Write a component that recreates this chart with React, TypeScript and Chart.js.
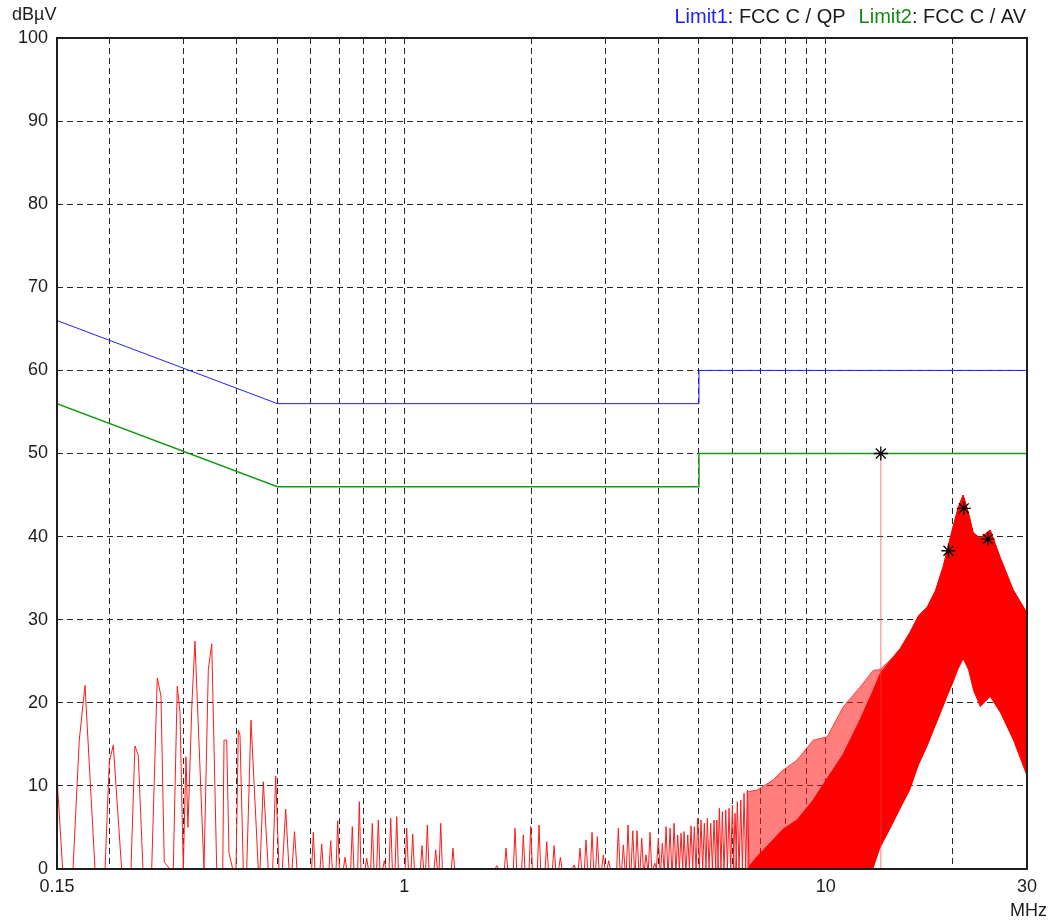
import React, { useEffect, useRef } from 'react';
import { Chart, registerables } from 'chart.js';

Chart.register(...registerables);

// ---- axes ----
const xGridValues = [0.15, 0.2, 0.3, 0.4, 0.5, 0.6, 0.7, 0.8, 0.9, 1, 2, 3, 4, 5, 6, 7, 8, 9, 10, 20, 30];
const xLabelValues = [0.15, 1, 10, 30];
const xLabelTexts = ['0.15', '1', '10', '30'];
const yLabelValues = [0, 10, 20, 30, 40, 50, 60, 70, 80, 90, 100];
const xUnit = 'MHz';
const yUnit = 'dBµV';

// ---- limits ----
const limitFreq = [0.15, 0.5, 5, 5, 30];
const qpLevel = [66, 56, 56, 60, 60];
const avLevel = [56, 46, 46, 50, 50];
const legendNames = ['Limit1', 'Limit2'];
const legendTexts = [': FCC C / QP', ': FCC C / AV'];

// ---- low-frequency trace (MHz, dBµV) ----
const lowFreq = [0.15, 0.1547, 0.1637, 0.1694, 0.1748, 0.1846, 0.195, 0.1996, 0.204, 0.2135, 0.2247, 0.2296, 0.2338, 0.2399, 0.2516, 0.2594, 0.2647, 0.2695, 0.278, 0.2831, 0.2893, 0.2937, 0.299, 0.3034, 0.3067, 0.3135, 0.3187, 0.3348, 0.3428, 0.3493, 0.3589, 0.3709, 0.3735, 0.379, 0.3838, 0.3917, 0.3988, 0.4039, 0.4076, 0.415, 0.4228, 0.4328, 0.4504, 0.4547, 0.4629, 0.4756, 0.4873, 0.4953, 0.5043, 0.5135, 0.5231, 0.5327, 0.5415, 0.5489, 0.5564];
const lowLevel = [11, 0, 0, 15.5, 22.1, 0, 0, 12.9, 14.9, 0, 0, 14.8, 13.7, 0, 0, 23, 20.8, 0.8, 0, 0, 22, 18.8, 0, 13.5, 5, 20, 27.4, 0, 24, 27.1, 0, 0, 15.5, 15.5, 1.9, 0, 0, 16.7, 16.1, 0, 0, 17.9, 0, 0, 10.5, 0, 0, 11.2, 0, 0, 7.2, 0, 0, 4.5, 0];

// ---- narrow spikes (peak frequency MHz, peak level dBµV) ----
const spikeFreq = [0.6083, 0.6368, 0.6689, 0.695, 0.7233, 0.7527, 0.782, 0.8143, 0.8397, 0.8676, 0.8966, 0.9284, 0.9594, 1.0132, 1.0469, 1.1015, 1.134, 1.1872, 1.2201, 1.3047, 1.6567, 1.743, 1.8306, 1.9156, 1.9948, 2.0873, 2.177, 2.266, 2.3452, 2.5264, 2.6109, 2.698, 2.788, 2.8702, 2.9656, 3.0543, 3.2189, 3.3082, 3.394, 3.4826, 3.5654, 3.6576, 3.7444, 3.8273, 3.9272, 4.005, 4.0936, 4.1773, 4.2697, 4.3641, 4.4524, 4.5341, 4.6089, 4.7031, 4.7884, 4.8752, 4.9669, 5.0569, 5.1485, 5.2346, 5.332, 5.43, 5.5106, 5.5886, 5.6808, 5.7878, 5.8928, 6.001, 6.0898, 6.166, 6.2823, 6.3963, 6.5135];
const spikeLevel = [4.4, 3.0, 3.4, 5.8, 1.4, 5.1, 8.1, 1.3, 5.5, 5.9, 1.0, 6.1, 6.3, 4.9, 4.2, 2.8, 5.3, 2.3, 5.5, 2.5, 0.4, 2.5, 4.9, 4.1, 5.1, 5.3, 3.3, 2.8, 1.4, 0.5, 2.5, 3.5, 4.4, 3.9, 1.7, 1.0, 4.9, 2.9, 5.3, 4.6, 4.6, 3.7, 1.7, 4.4, 0.7, 3.7, 3.1, 5.1, 4.9, 5.5, 4.1, 4.3, 4.5, 4.1, 5.2, 5.1, 6.1, 5.9, 5.5, 6.1, 5.5, 5.9, 5.9, 7.3, 6.9, 7.1, 7.3, 7.7, 6.7, 8.1, 8.3, 9.1, 9.5];

// ---- dense high-frequency band envelopes ----
const hfFreq = [6.5, 6.87, 7.49, 7.92, 8.54, 9.33, 10.07, 10.99, 12.06, 12.95, 13.45, 14.44, 15.0, 15.84, 16.6, 17.39, 18.2, 18.98, 19.5, 20.04, 20.6, 21.17, 21.75, 22.35, 23.22, 24.53, 25.91, 27.81, 30];
const hfUpper = [9.3, 9.5, 10.7, 11.9, 13.1, 15.5, 15.9, 19.5, 21.9, 23.9, 24.0, 25.5, 26.5, 28.5, 30.5, 31.5, 33.5, 36.4, 38.8, 41.2, 43.5, 45, 43, 40.5, 39.8, 40.8, 37.5, 33.6, 30.8];
const hfSolid = [0, 1.5, 3.5, 4.8, 5.9, 8.3, 10.9, 13.8, 18, 21.5, 23.5, 25.5, 26.5, 28.5, 30.5, 31.5, 33.5, 36.4, 38.8, 41.2, 43.5, 45, 43, 40.5, 39.8, 40.8, 37.5, 33.6, 30.8];
const hfLower = [0, 0, 0, 0, 0, 0, 0, 0, 0, 0, 2.5, 5.5, 7.2, 9.5, 12.5, 14.7, 17.2, 19.5, 21, 22.4, 24, 25.2, 24, 21.5, 19.5, 20.7, 18.8, 15.5, 11.1];

// ---- markers ----
const markerFreq = [13.5, 19.53, 21.24, 24.22];
const markerLevel = [50, 38.3, 43.4, 39.7];

const FONT = '18px "Liberation Sans", Arial, sans-serif';
const LEGEND_FONT = '20px "Liberation Sans", Arial, sans-serif';

const zip = (xs: number[], ys: number[]) => xs.map((x, i) => ({ x, y: ys[i] }));

function buildTrace() {
  const pts = zip(lowFreq, lowLevel);
  spikeFreq.forEach((f, i) => {
    pts.push({ x: f / 1.009, y: 0 });
    pts.push({ x: f, y: spikeLevel[i] });
    pts.push({ x: f * 1.009, y: 0 });
  });
  return pts;
}

const textPlugin = {
  id: 'texts',
  afterDraw(chart: any) {
    const ctx = chart.ctx as CanvasRenderingContext2D;
    const { left, right, top, bottom } = chart.chartArea;
    const xs = chart.scales.x;
    const ys = chart.scales.y;
    ctx.save();
    ctx.strokeStyle = '#1e1e1e';
    ctx.lineWidth = 2;
    ctx.strokeRect(left, top, right - left, bottom - top);

    ctx.font = FONT;
    ctx.fillStyle = '#1c1c1c';
    ctx.textBaseline = 'middle';
    ctx.textAlign = 'right';
    yLabelValues.forEach((v) => ctx.fillText(String(v), left - 9, ys.getPixelForValue(v)));
    ctx.textAlign = 'center';
    xLabelValues.forEach((v, i) => ctx.fillText(xLabelTexts[i], xs.getPixelForValue(v), bottom + 18));
    ctx.textAlign = 'right';
    ctx.fillText(xUnit, right + 20, bottom + 42);
    ctx.textAlign = 'left';
    ctx.fillText(yUnit, 12, 15);

    // legend (right aligned to the frame)
    ctx.font = LEGEND_FONT;
    const colors = ['#2020ff', '#128a12'];
    let x = right - 1;
    const widths = legendNames.map((n, i) => ctx.measureText(n).width + ctx.measureText(legendTexts[i]).width);
    const starts: number[] = [];
    for (let i = legendNames.length - 1; i >= 0; i--) {
      x -= widths[i];
      starts[i] = x;
      x -= 13;
    }
    legendNames.forEach((n, i) => {
      ctx.fillStyle = colors[i];
      ctx.fillText(n, starts[i], 17);
      ctx.fillStyle = '#1c1c1c';
      ctx.fillText(legendTexts[i], starts[i] + ctx.measureText(n).width, 17);
    });
    ctx.restore();
  },
};

export default function App() {
  const ref = useRef<HTMLCanvasElement | null>(null);
  useEffect(() => {
    if (!ref.current) return;
    const gridOpts = { color: 'rgba(0,0,0,0.85)', lineWidth: 1, drawTicks: false };
    const chart = new Chart(ref.current, {
      type: 'line',
      data: {
        datasets: [
          {
            data: zip(markerFreq, markerLevel),
            showLine: false,
            pointStyle: 'star',
            pointRadius: 7,
            pointBorderWidth: 1.3,
            pointBorderColor: '#000',
            pointBackgroundColor: '#000',
            borderColor: '#000',
          },
          { data: zip(limitFreq, qpLevel), borderColor: '#2020ff', borderWidth: 1, pointRadius: 0, fill: false },
          { data: zip(limitFreq, avLevel), borderColor: '#159a15', borderWidth: 1.4, pointRadius: 0, fill: false },
          {
            data: [{ x: markerFreq[0], y: 0 }, { x: markerFreq[0], y: markerLevel[0] }],
            borderColor: 'rgba(255,60,60,0.45)',
            borderWidth: 1.5,
            pointRadius: 0,
            fill: false,
          },
          { data: buildTrace(), borderColor: '#ff1a1a', borderWidth: 1, pointRadius: 0, fill: false },
          {
            data: zip(hfFreq, hfSolid),
            borderColor: '#ff0000',
            backgroundColor: '#ff0000',
            borderWidth: 1,
            pointRadius: 0,
            fill: { target: 7 },
          },
          {
            data: zip(hfFreq, hfUpper),
            borderColor: 'rgba(255,0,0,0.65)',
            backgroundColor: 'rgba(255,20,20,0.55)',
            borderWidth: 1,
            pointRadius: 0,
            fill: { target: 7 },
          },
          { data: zip(hfFreq, hfLower), borderColor: '#ff0000', borderWidth: 0, pointRadius: 0, fill: false },
        ] as any,
      },
      options: {
        responsive: false,
        animation: false,
        devicePixelRatio: 1,
        layout: { padding: { left: 57, right: 25, top: 38, bottom: 52 } },
        plugins: { legend: { display: false }, tooltip: { enabled: false } },
        elements: { line: { tension: 0 } },
        scales: {
          x: {
            type: 'logarithmic',
            min: 0.15,
            max: 30,
            afterBuildTicks: (s: any) => {
              s.ticks = xGridValues.map((v) => ({ value: v }));
            },
            afterFit: (s: any) => {
              s.height = 0;
            },
            ticks: { display: false, autoSkip: false },
            grid: gridOpts,
            border: { display: false, dash: [6, 4] },
          },
          y: {
            type: 'linear',
            min: 0,
            max: 100,
            afterFit: (s: any) => {
              s.width = 0;
            },
            ticks: { display: false, stepSize: 10 },
            grid: gridOpts,
            border: { display: false, dash: [6, 4] },
          },
        },
      } as any,
      plugins: [textPlugin],
    });
    return () => chart.destroy();
  }, []);
  return (
    <div style={{ position: 'fixed', left: 0, top: 0, width: 1052, height: 921, background: '#fff' }}>
      <canvas ref={ref} width={1052} height={921} style={{ display: 'block', width: 1052, height: 921 }} />
    </div>
  );
}
